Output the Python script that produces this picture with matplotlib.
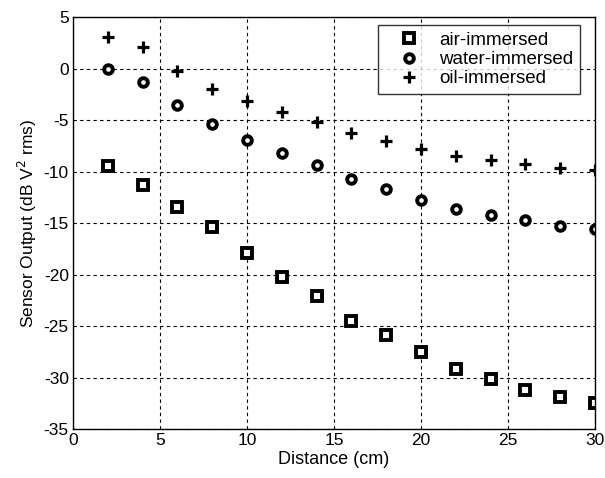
import numpy as np
import matplotlib.pyplot as plt

plt.rcParams['font.family'] = ['Liberation Sans', 'DejaVu Sans']
plt.rcParams['axes.unicode_minus'] = False

distance = [2, 4, 6, 8, 10, 12, 14, 16, 18, 20, 22, 24, 26, 28, 30]
air = [-9.4, -11.3, -13.4, -15.4, -17.9, -20.2, -22.1, -24.5, -25.9, -27.5,
       -29.2, -30.1, -31.2, -31.9, -32.5]
water = [0.0, -1.3, -3.5, -5.4, -6.9, -8.2, -9.3, -10.75, -11.7, -12.7,
         -13.6, -14.2, -14.7, -15.3, -15.6]
oil = [3.1, 2.1, -0.2, -2.0, -3.1, -4.2, -5.2, -6.2, -7.0, -7.8,
       -8.5, -8.9, -9.2, -9.6, -9.85]

fig = plt.figure(figsize=(6.05, 4.78), dpi=100)
ax = fig.add_axes([0.1207, 0.1025, 0.8628, 0.861])

ax.plot(distance, air, 's', mfc='white', mec='black', mew=2.8, ms=7, label='air-immersed')
ax.plot(distance, water, 'o', mfc='white', mec='black', mew=2.8, ms=6.2, label='water-immersed')
ax.plot(distance, oil, '+', color='black', mew=2.3, ms=8, label='oil-immersed')

ax.set_xlim(0, 30)
ax.set_ylim(-35, 5)
ax.set_xticks(np.arange(0, 31, 5))
ax.set_yticks(np.arange(-35, 6, 5))
ax.grid(True, color='black', ls=(0, (3, 3)), lw=0.8)
ax.tick_params(direction='in', length=0, labelsize=12.5, pad=3)
for s in ax.spines.values():
    s.set_linewidth(1)

ax.set_xlabel('Distance (cm)', fontsize=13, labelpad=2)
ax.set_ylabel('Sensor Output (dB V$^2$ rms)', fontsize=12.5, labelpad=3)

leg = ax.legend(loc='upper left', fontsize=13.5, frameon=True, fancybox=False,
                edgecolor='black', handlelength=2.6, handletextpad=0.3,
                borderpad=0.35, labelspacing=0.12, borderaxespad=0,
                bbox_to_anchor=(378 / 605, 1 - 25 / 478),
                bbox_transform=fig.transFigure)
leg.get_frame().set_linewidth(1)

fig.savefig('out.png', dpi=100)
